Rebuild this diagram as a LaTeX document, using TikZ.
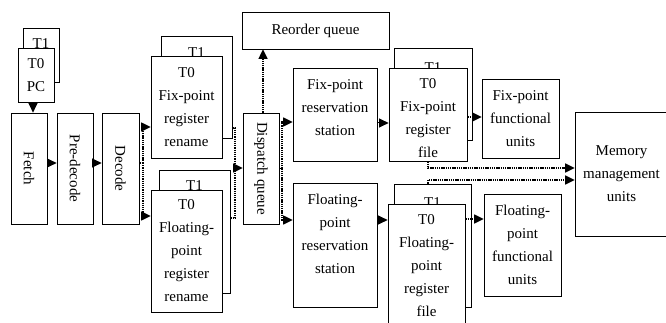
\documentclass[tikz,border=0pt]{standalone}
\usepackage{fontspec}
\setmainfont{Liberation Serif}
\usetikzlibrary{arrows.meta}
\begin{document}
\begin{tikzpicture}[x=1pt,y=-1pt,
  bx/.style n args={2}{draw,fill=white,line width=0.8pt,minimum width=#1,minimum height=#2,inner sep=0pt,align=center,font=\fontsize{15}{23}\selectfont},
  tx/.style={align=center,inner sep=0pt,font=\fontsize{15}{23}\selectfont},
  rt/.style={tx,rotate=-90},
  tip/.style={-{Triangle[length=9.5pt,width=9pt]}},
  sl/.style={line width=1pt},
  dl/.style={line width=1.4pt,dash pattern=on 1.3pt off 0.9pt}]
\useasboundingbox (0,0) rectangle (666,323);
% back (T1) boxes
\node[bx={36pt}{54pt}] (pcB) at (41,55) {};
\node[tx,anchor=north] (pcT1) at (41,38) {T1};
\node[bx={71pt}{102pt}] (fixrenB) at (196.5,87) {};
\node[tx,anchor=north] (fixrenT1) at (196.5,47) {T1};
\node[bx={71pt}{123pt}] (fltrenB) at (194.5,231.5) {};
\node[tx,anchor=north] (fltrenT1) at (194.5,180) {T1};
\node[bx={78pt}{92pt}] (fixregB) at (433,94) {};
\node[tx,anchor=north] (fixregT1) at (433,62) {T1};
\node[bx={77pt}{123pt}] (fltregB) at (432.5,245.5) {};
\node[tx,anchor=north] (fltregT1) at (432.5,197) {T1};
% front boxes
\node[bx={36pt}{54pt}] (pcF) at (36,75) {T0\\PC};
\node[bx={36pt}{111pt}] (fetch) at (29,168.5) {};
\node[rt] (fetchT) at (fetch) {Fetch};
\node[bx={36pt}{111pt}] (predec) at (75,168.5) {};
\node[rt] (predecT) at (predec) {Pre-decode};
\node[bx={37pt}{111pt}] (decode) at (120.5,168.5) {};
\node[rt] (decodeT) at (decode) {Decode};
\node[bx={71pt}{102pt}] (fixrenF) at (186.5,107) {T0\\Fix-point\\register\\rename};
\node[bx={71pt}{122pt}] (fltrenF) at (186.5,251) {T0\\Floating-\\point\\register\\rename};
\node[bx={147pt}{37pt}] (reorder) at (315.5,30.5) {Reorder queue};
\node[bx={36pt}{111pt}] (dispatch) at (261,168.5) {};
\node[rt] (dispatchT) at (dispatch) {Dispatch queue};
\node[bx={84pt}{93pt}] (fixrs) at (335,114.5) {};
\node[tx] (fixrsT) at (335,108) {Fix-point\\reservation\\station};
\node[bx={84pt}{124pt}] (fltrs) at (335,245) {};
\node[tx] (fltrsT) at (335,234) {Floating-\\point\\reservation\\station};
\node[bx={78pt}{93pt}] (fixregF) at (428,114.5) {};
\node[tx] (fixregT) at (428,118) {T0\\Fix-point\\register\\file};
\node[bx={77pt}{131pt}] (fltregF) at (426.5,269.5) {};
\node[tx] (fltregT) at (426.5,266) {T0\\Floating-\\point\\register\\file};
\node[bx={77pt}{79pt}] (fixfu) at (520.5,118.5) {Fix-point\\functional\\units};
\node[bx={77pt}{102pt}] (fltfu) at (522.5,245) {Floating-\\point\\functional\\units};
\node[bx={93pt}{124pt}] (mem) at (621.5,174) {Memory\\management\\units};
% connectors
\draw[sl,tip] ([xshift=-3pt]pcF.south) -- ([xshift=-3pt]pcF.south |- fetch.north);
\draw[sl,tip] ([yshift=5.5pt]fetch.east) -- ([yshift=5.5pt]predec.west);
\draw[sl,tip] ([yshift=5.5pt]predec.east) -- ([yshift=5.5pt]decode.west);
\coordinate (dj) at (143,163);
\draw[dl] ([yshift=5.5pt]decode.east) -- (dj);
\draw[dl,tip] (dj) |- ([yshift=-20pt]fixrenF.west);
\draw[dl,tip] (dj) |- ([yshift=35pt]fltrenF.west);
\coordinate (rj) at (235,168);
\draw[dl] ([yshift=-41pt]fixrenB.east) -| (rj);
\draw[dl] ([yshift=13.5pt]fltrenB.east) -| (rj);
\draw[dl,tip] (rj) -- (rj -| dispatch.west);
\draw[dl,tip] ([xshift=2pt]dispatch.north) -- ([xshift=2pt]dispatch.north |- reorder.south);
\coordinate (sj) at (282,168.5);
\draw[dl] (dispatch.east) -- (sj);
\draw[dl,tip] (sj) |- ([yshift=-7.5pt]fixrs.west);
\draw[dl,tip] (sj) |- ([yshift=25pt]fltrs.west);
\draw[sl,tip] ([yshift=-8.5pt]fixrs.east) -- ([yshift=-8.5pt]fixrs.east -| fixregF.west);
\draw[sl,tip] ([yshift=25pt]fltrs.east) -- ([yshift=25pt]fltrs.east -| fltregF.west);
\draw[dl,tip] ([yshift=-2.5pt]fixregF.east) -- ([yshift=-2.5pt]fixregF.east -| fixfu.west);
\draw[dl,tip] ([yshift=50.5pt]fltregF.east) -- ([yshift=50.5pt]fltregF.east -| fltfu.west);
\draw[dl,tip] (fixregF.south) |- ([yshift=6pt]mem.west);
\draw[dl,tip] ([xshift=-4.5pt]fltregB.north) |- ([yshift=-6pt]mem.west);
\end{tikzpicture}
\end{document}
